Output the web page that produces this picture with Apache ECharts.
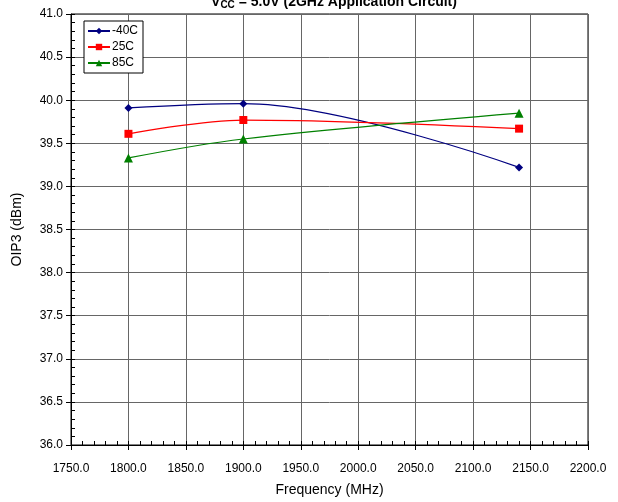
<!DOCTYPE html>
<html>
<head>
<meta charset="utf-8">
<script src="https://cdn.jsdelivr.net/npm/echarts@6/dist/echarts.min.js"></script>
<style>
  html, body { margin: 0; padding: 0; background: #fff; }
  #chart { width: 618px; height: 502px; }
</style>
</head>
<body>
<div id="chart"></div>
<script>
// Frequency points (MHz) and OIP3 (dBm) per temperature
const freqs = [1800, 1900, 2140];
const oipMinus40 = [39.91, 39.96, 39.22];
const oip25 = [39.61, 39.77, 39.67];
const oip85 = [39.33, 39.55, 39.85];
const seriesNames = ['-40C', '25C', '85C'];
const seriesColors = ['#000080', '#ff0000', '#008000'];
const seriesSymbols = ['diamond', 'rect', 'triangle'];

const FONT = '"Liberation Sans", Arial, sans-serif';
const grid = { left: 71, right: 30, top: 14, bottom: 56 };

function pairs(ys) { return freqs.map((f, i) => [f, ys[i]]); }
const values = [oipMinus40, oip25, oip85];

const chart = echarts.init(document.getElementById('chart'), null, { renderer: 'canvas' });

chart.setOption({
  backgroundColor: '#fff',
  animation: false,
  textStyle: { fontFamily: FONT },
  title: {
    text: '{b|V}{s|CC}{b| = 5.0V (2GHz Application Circuit)}',
    left: 329, textAlign: 'center', top: -10,
    textStyle: {
      rich: {
        b: { fontFamily: FONT, fontWeight: 'bold', fontSize: 14, color: '#000' },
        s: { fontFamily: FONT, fontWeight: 'bold', fontSize: 10, color: '#000', verticalAlign: 'bottom', padding: [5, 0, 0, 0] }
      }
    }
  },
  legend: {
    left: 84, top: 21, orient: 'vertical',
    padding: [4, 5, 4, 3], itemGap: 4,
    itemWidth: 22, itemHeight: 8,
    borderColor: '#000', borderWidth: 1, backgroundColor: '#fff',
    textStyle: { fontFamily: FONT, fontSize: 12, color: '#000', padding: [0, 0, 0, -3] },
    data: seriesNames
  },
  grid: Object.assign({ show: true, borderColor: '#000', borderWidth: 1 }, grid),
  xAxis: [
    {
      type: 'value', min: 1750, max: 2200, interval: 50,
      name: 'Frequency (MHz)', nameLocation: 'middle', nameGap: 38,
      nameTextStyle: { fontFamily: FONT, fontSize: 14, color: '#000' },
      axisLine: { onZero: false, lineStyle: { color: '#000' } },
      axisTick: { show: true, inside: false, length: 5, lineStyle: { color: '#000' } },
      axisLabel: { fontFamily: FONT, fontSize: 12, color: '#000', margin: 18, formatter: v => v.toFixed(1) },
      splitLine: { show: true, lineStyle: { color: '#666666', width: 1 } }
    },
    {
      // minor ticks drawn inward
      type: 'value', min: 1750, max: 2200, interval: 10, position: 'bottom',
      axisLine: { show: false },
      axisTick: { show: true, inside: true, length: 4, lineStyle: { color: '#000' } },
      axisLabel: { show: false }, splitLine: { show: false }
    }
  ],
  yAxis: [
    {
      type: 'value', min: 36, max: 41, interval: 0.5,
      name: 'OIP3 (dBm)', nameLocation: 'middle', nameGap: 47, nameRotate: 90,
      nameTextStyle: { fontFamily: FONT, fontSize: 14, color: '#000' },
      axisLine: { show: true, onZero: false, lineStyle: { color: '#000' } },
      axisTick: { show: true, inside: false, length: 5, lineStyle: { color: '#000' } },
      axisLabel: { fontFamily: FONT, fontSize: 12, color: '#000', margin: 8, formatter: v => v.toFixed(1) },
      splitLine: { show: true, lineStyle: { color: '#666666', width: 1 } }
    },
    {
      type: 'value', min: 36, max: 41, interval: 0.1, position: 'left',
      axisLine: { show: false },
      axisTick: { show: true, inside: true, length: 4, lineStyle: { color: '#000' } },
      axisLabel: { show: false }, splitLine: { show: false }
    }
  ],
  series: values.map((ys, i) => ({
    name: seriesNames[i], type: 'line', smooth: 0.35,
    data: pairs(ys),
    symbol: seriesSymbols[i],
    symbolSize: i === 2 ? 9 : 8,
    color: seriesColors[i],
    lineStyle: { width: 1.2, color: seriesColors[i] },
    itemStyle: { color: seriesColors[i] },
    z: 3 + i
  }))
});
</script>
</body>
</html>
